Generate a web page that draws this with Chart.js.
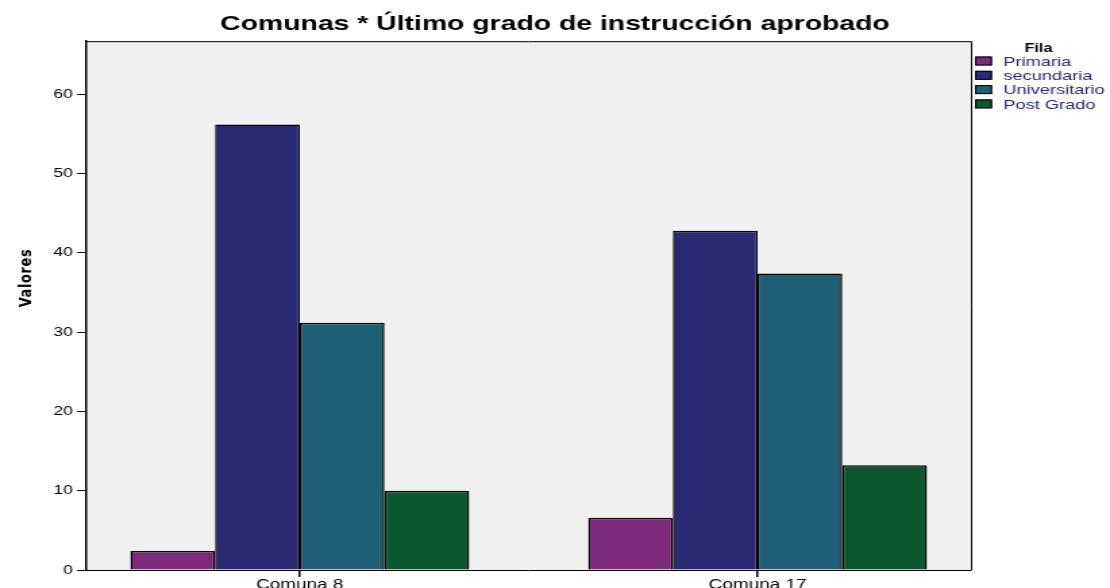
<!DOCTYPE html>
<html>
<head>
<meta charset="utf-8">
<script src="https://cdn.jsdelivr.net/npm/chart.js@4"></script>
<style>
  html, body { margin: 0; padding: 0; background: #fff; }
</style>
</head>
<body>
<!-- the reference is a horizontally stretched SPSS chart, so draw narrow and stretch with CSS -->
<canvas id="chart" width="822" height="588" style="width:1110px;height:588px"></canvas>
<script>
const categories = ['Comuna 8', 'Comuna 17'];
const seriesNames = ['Primaria', 'secundaria', 'Universitario', 'Post Grado'];
const primaria = [2.4, 6.6];
const secundaria = [56.2, 42.8];
const universitario = [31.2, 37.4];
const postGrado = [10.0, 13.2];
const yTicks = [0, 10, 20, 30, 40, 50, 60];
const colors = ['#7e2a7c', '#2a2a74', '#1e5f77', '#0b582f'];

const FONT = 'Liberation Sans, Arial, sans-serif';

// plot background, top/right frame, rotated axis title and the "Fila" key
const frame = {
  id: 'frame',
  beforeDraw(chart) {
    const { ctx, chartArea: a } = chart;
    ctx.save();
    ctx.fillStyle = '#f0f0f0';
    ctx.fillRect(a.left, a.top, a.right - a.left, a.bottom - a.top);
    ctx.restore();
  },
  afterDraw(chart) {
    const { ctx, chartArea: a } = chart;
    ctx.save();
    ctx.strokeStyle = '#000';
    ctx.lineWidth = 1;
    ctx.beginPath();
    ctx.moveTo(a.left, a.top + 0.5);
    ctx.lineTo(a.right + 0.5, a.top + 0.5);
    ctx.lineTo(a.right + 0.5, a.bottom);
    ctx.stroke();

    ctx.translate(20, 278);
    ctx.rotate(-Math.PI / 2);
    ctx.fillStyle = '#000';
    ctx.font = 'bold 13px "DejaVu Sans"';
    ctx.letterSpacing = '0.6px';
    ctx.textAlign = 'center';
    ctx.textBaseline = 'middle';
    ctx.fillText('Valores', 0, 0);
    ctx.restore();

    ctx.save();
    ctx.fillStyle = '#000';
    ctx.font = 'bold 12px ' + FONT;
    ctx.textAlign = 'center';
    ctx.textBaseline = 'middle';
    ctx.fillText('Fila', 769, 49);
    ctx.textAlign = 'left';
    ctx.font = '13.5px ' + FONT;
    chart.data.datasets.forEach((ds, i) => {
      const y = 61 + i * 14.3;
      ctx.fillStyle = ds.backgroundColor;
      ctx.fillRect(722, y - 4.5, 12.6, 9);
      ctx.strokeStyle = '#000';
      ctx.strokeRect(722.5, y - 4, 11.6, 8);
      ctx.fillStyle = '#262680';
      ctx.fillText(ds.label, 743, y + 1);
    });
    ctx.restore();
  }
};

const series = [primaria, secundaria, universitario, postGrado];

new Chart(document.getElementById('chart'), {
  type: 'bar',
  data: {
    datasets: series.map((vals, k) => ({
      label: seriesNames[k],
      data: vals.map((v, i) => ({ x: i, y: v })),
      backgroundColor: colors[k],
      borderColor: '#000',
      borderWidth: 1.5,
      categoryPercentage: 0.74,
      barPercentage: 1,
    })),
  },
  options: {
    responsive: false,
    animation: false,
    devicePixelRatio: 1,
    scales: {
      x: {
        type: 'linear',
        offset: false,
        min: -0.466,
        max: 1.466,
        afterBuildTicks: (s) => { s.ticks = categories.map((c, i) => ({ value: i })); },
        afterFit: (s) => { s.height = 18; },
        ticks: {
          callback: (v) => categories[v],
          font: { family: FONT, size: 14 },
          color: '#000',
          padding: 0,
          maxRotation: 0,
          autoSkip: false,
        },
        grid: { offset: false, drawOnChartArea: false, drawTicks: true, tickLength: 7, color: '#000', lineWidth: 1.5 },
        border: { color: '#000', width: 1 },
      },
      y: {
        min: 0,
        max: 66.7,
        afterBuildTicks: (s) => { s.ticks = yTicks.map((v) => ({ value: v })); },
        afterFit: (s) => { s.width = 64; },
        ticks: {
          font: { family: FONT, size: 13 },
          color: '#000',
          padding: 3,
        },
        grid: { drawOnChartArea: false, drawTicks: true, tickLength: 7, color: '#000' },
        border: { color: '#000', width: 1.5 },
      },
      // empty axis that keeps room on the right for the key
      side: {
        position: 'right',
        afterFit: (s) => { s.width = 103; },
        ticks: { display: false },
        grid: { display: false },
        border: { display: false },
      },
    },
    plugins: {
      legend: { display: false },
      tooltip: { enabled: false },
      title: {
        display: true,
        text: 'Comunas * Último grado de instrucción aprobado',
        font: { family: FONT, size: 21, weight: 'bold' },
        color: '#000',
        padding: { top: 12, bottom: 4 },
      },
    },
  },
  plugins: [frame],
});
</script>
</body>
</html>
